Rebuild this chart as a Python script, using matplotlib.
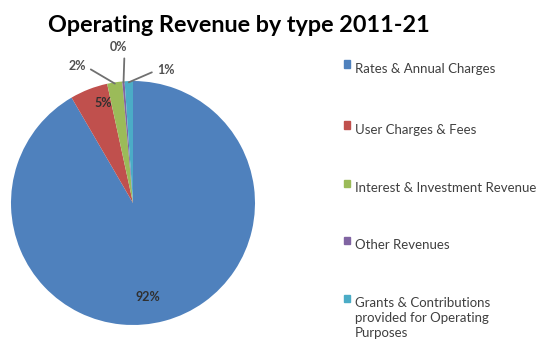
import numpy as np
import matplotlib.pyplot as plt
from matplotlib.patches import Rectangle

categories = ["Rates & Annual Charges", "User Charges & Fees",
              "Interest & Investment Revenue", "Other Revenues",
              "Grants & Contributions\nprovided for Operating\nPurposes"]
shares = [91.6, 5.0, 2.0, 0.3, 1.1]
colors = ["#4F81BD", "#C0504D", "#9BBB59", "#8064A2", "#4BACC6"]

plt.rcParams['font.family'] = ['Lato', 'DejaVu Sans']

fig = plt.figure(figsize=(5.38, 3.40), dpi=100)
W, H = 538, 340
cx, cy, r = 133, 203, 122
ax = fig.add_axes([(cx - r) / W, (H - cy - r) / H, 2 * r / W, 2 * r / H])
wedges, _ = ax.pie(shares, colors=colors, startangle=90, counterclock=False,
                   radius=1, wedgeprops=dict(linewidth=0))
ax.set_xlim(-1, 1)
ax.set_ylim(-1, 1)
ax.axis('off')

# percentage labels: inside ones plain, small ones pulled out with leader lines
inside = {0: (0.8, -0.09, 0.0), 1: (0.84, 0.06, 0.04)}
# text position and where on the text box the leader starts
outside = {2: ((-0.46, 1.12), (1.0, 0.5)),
           3: ((-0.12, 1.28), (0.85, 0.0)),
           4: ((0.27, 1.09), (0.0, 0.5))}
for i, w in enumerate(wedges):
    pct = "%d%%" % round(shares[i] / sum(shares) * 100)
    mid = np.deg2rad((w.theta1 + w.theta2) / 2)
    if i in inside:
        d, dx, dy = inside[i]
        ax.text(d * np.cos(mid) + dx, d * np.sin(mid) + dy, pct,
                ha='center', va='center', fontsize=9, fontweight='bold',
                color='#303030')
    else:
        (tx, ty), rel = outside[i]
        ax.annotate(pct, xy=(0.99 * np.cos(mid), 0.99 * np.sin(mid)),
                    xytext=(tx, ty), ha='center', va='center', fontsize=9,
                    fontweight='bold', color='#505050', annotation_clip=False,
                    arrowprops=dict(arrowstyle='-', color='#707070', lw=1.3,
                                    relpos=rel, shrinkA=2, shrinkB=0))

fig.text(48 / W, 1 - 25 / H, "Operating Revenue by type 2011-21",
         fontsize=16.8, fontweight='bold', color='black', va='center')

# legend drawn by hand so the swatch sits on the first text line
leg_y = [64, 125, 183, 240, 298]
for y, c, lab in zip(leg_y, colors, categories):
    fig.patches.append(Rectangle((344 / W, 1 - (y + 3.5) / H), 6 / W, 7 / H,
                                 transform=fig.transFigure, color=c))
    fig.text(355 / W, 1 - (y - 1) / H, lab, fontsize=9.5, color='#404040',
             va='top', ha='left', linespacing=1.3,
             transform=fig.transFigure)

fig.savefig("out.png", dpi=100)
